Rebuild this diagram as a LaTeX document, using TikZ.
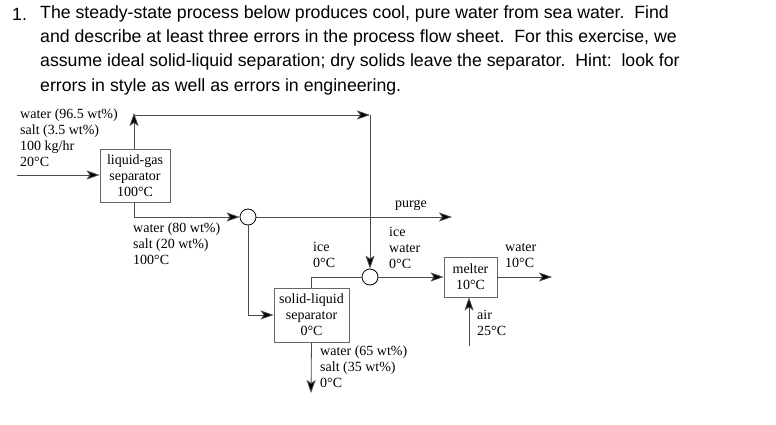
\documentclass[tikz,border=0pt]{standalone}
\usepackage{fontspec}
\setmainfont{Liberation Serif}
\newfontfamily\hdr{Liberation Sans}
\usetikzlibrary{arrows.meta}
\begin{document}
\begin{tikzpicture}[x=1pt,y=-1pt,
  ln/.style={draw=black!70,line width=0.8pt},
  ar/.style={ln,-{Stealth[length=13pt,width=9pt,inset=3pt,fill=black]}},
  box/.style={draw=black!60,line width=0.8pt,minimum width=#1,inner sep=0pt,align=center,font=\fontsize{14}{16}\selectfont},
  lab/.style={anchor=north west,inner sep=0pt,align=left,font=\fontsize{14}{16}\selectfont},
  mix/.style={circle,draw=black,line width=0.8pt,minimum size=16pt,inner sep=0pt},
  hd/.style={anchor=west,inner sep=0pt,font=\hdr\fontsize{17.7}{24}\selectfont}]
\useasboundingbox (0,0) rectangle (776,425);
\node[hd] (n1) at (12,14) {1.};
\node[hd] (h1) at (40,14) {The steady-state process below produces cool, pure water from sea water.\ \ Find};
\node[hd] (h2) at (40,38) {and describe at least three errors in the process flow sheet.\ \ For this exercise, we};
\node[hd] (h3) at (40,62) {assume ideal solid-liquid separation; dry solids leave the separator.\ \ Hint:\ \ look for};
\node[hd] (h4) at (40,87) {errors in style as well as errors in engineering.};

\node[box=70pt,minimum height=53pt] (lg) at (135,175.5) {liquid-gas\\separator\\100°C};
\node[box=75pt,minimum height=54pt] (sl) at (311.5,315) {solid-liquid\\separator\\0°C};
\node[box=53pt,minimum height=40pt] (me) at (470.5,277) {melter\\10°C};
\node[mix] (c1) at (248,217) {};
\node[mix] (c2) at (370,277) {};

\coordinate (feed) at (17,175);
\coordinate (up) at (134,113);
\coordinate (tl) at (134,115);
\coordinate (tr) at (370,115);
\coordinate (pg) at (452,217);
\coordinate (out) at (552,277);
\coordinate (air) at (469,346);
\coordinate (brine) at (311,393);

\draw[ar] (feed) -- (lg.west|-feed);
\draw[ar] (lg.north-|up) -- (up);
\draw[ar] (tl) -- (tr);
\draw[ar] (tr) -- (c2.north);
\draw[ar] (lg.south-|tl) |- (c1.west);
\draw[ar] (c1.east) -- (pg);
\draw[ar] (c1.south) |- (sl.west);
\draw[ln] (sl.north) |- (c2.west);
\draw[ar] (c2.east) -- (me.west);
\draw[ar] (me.east) -- (out);
\draw[ar] (air) -- (me.south-|air);
\draw[ar] (sl.south) -- (brine);

\node[lab] (l1) at (20,109) {water (96.5 wt\%)\\salt (3.5 wt\%)\\100 kg/hr\\20°C};
\node[lab] (l2) at (133,223) {water (80 wt\%)\\salt (20 wt\%)\\100°C};
\node[lab] (l3) at (395,200) {purge};
\node[lab] (l4) at (313,242) {ice\\0°C};
\node[lab] (l5) at (389,227) {ice\\water\\0°C};
\node[lab] (l6) at (505,243) {water\\10°C};
\node[lab] (l7) at (477,310) {air\\25°C};
\node[lab] (l8) at (320,346) {water (65 wt\%)\\salt (35 wt\%)\\0°C};
\end{tikzpicture}
\end{document}
